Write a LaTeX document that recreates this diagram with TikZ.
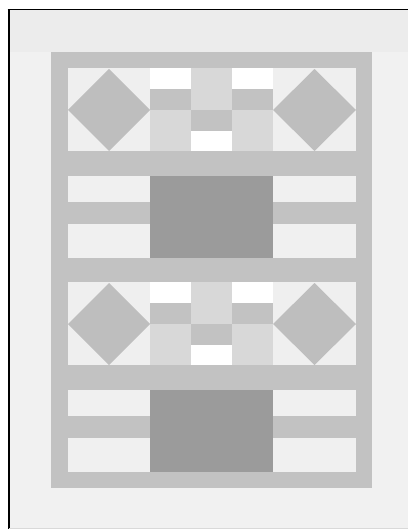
\documentclass[tikz,border=0pt]{standalone}
\begin{document}
\begin{tikzpicture}[x=1pt,y=-1pt]
\definecolor{bgout}{HTML}{F1F1F1}
\definecolor{topband}{HTML}{ECECEC}
\definecolor{sash}{HTML}{C2C2C2}
\definecolor{dia}{HTML}{BEBEBE}
\definecolor{diabg}{HTML}{EFEFEF}
\definecolor{dark}{HTML}{9B9B9B}
\definecolor{lite}{HTML}{D8D8D8}
\definecolor{pale}{HTML}{F0F0F0}
\useasboundingbox (0,0) rectangle (408,529);
\fill[white] (0,0) rectangle (408,529);
% quilt outer border
\fill[bgout] (9,10) rectangle (408,528);
\fill[topband] (9,10) rectangle (408,52);
\draw[line width=1.8pt] (8.6,529) -- (8.6,9.6);
\draw[line width=1.2pt] (7.7,9.6) -- (408,9.6);
\draw[gray!30,line width=0.6pt] (9,528.5) -- (408,528.5);
% grey frame
\fill[sash] (51,52) rectangle (372,488);
% inner area
\fill[diabg] (68,68) rectangle (356,472);
% sashing bars
\foreach \ya/\yb in {151/176,258/282,365/390}
  \fill[sash] (68,\ya) rectangle (356,\yb);
% diamond rows
\foreach \yt in {68,282}{
  \begin{scope}[shift={(0,\yt)}]
    % left and right diamonds
    \fill[dia] (68,42) -- (109,1) -- (150,42) -- (109,83) -- cycle;
    \fill[dia] (273,42) -- (314.5,1) -- (356,42) -- (314.5,83) -- cycle;
    % middle columns
    \fill[white] (150,0) rectangle (191,21);
    \fill[sash] (150,21) rectangle (191,42);
    \fill[lite] (150,42) rectangle (191,83);
    \fill[lite] (191,0) rectangle (232,42);
    \fill[sash] (191,42) rectangle (232,63);
    \fill[white] (191,63) rectangle (232,83);
    \fill[white] (232,0) rectangle (273,21);
    \fill[sash] (232,21) rectangle (273,42);
    \fill[lite] (232,42) rectangle (273,83);
  \end{scope}
}
% rectangle rows
\foreach \yt in {176,390}{
  \begin{scope}[shift={(0,\yt)}]
    \fill[pale] (68,0) rectangle (150,26);
    \fill[sash] (68,26) rectangle (150,48);
    \fill[pale] (68,48) rectangle (150,82);
    \fill[pale] (273,0) rectangle (356,26);
    \fill[sash] (273,26) rectangle (356,48);
    \fill[pale] (273,48) rectangle (356,82);
    \fill[dark] (150,0) rectangle (273,82);
  \end{scope}
}
\end{tikzpicture}
\end{document}
